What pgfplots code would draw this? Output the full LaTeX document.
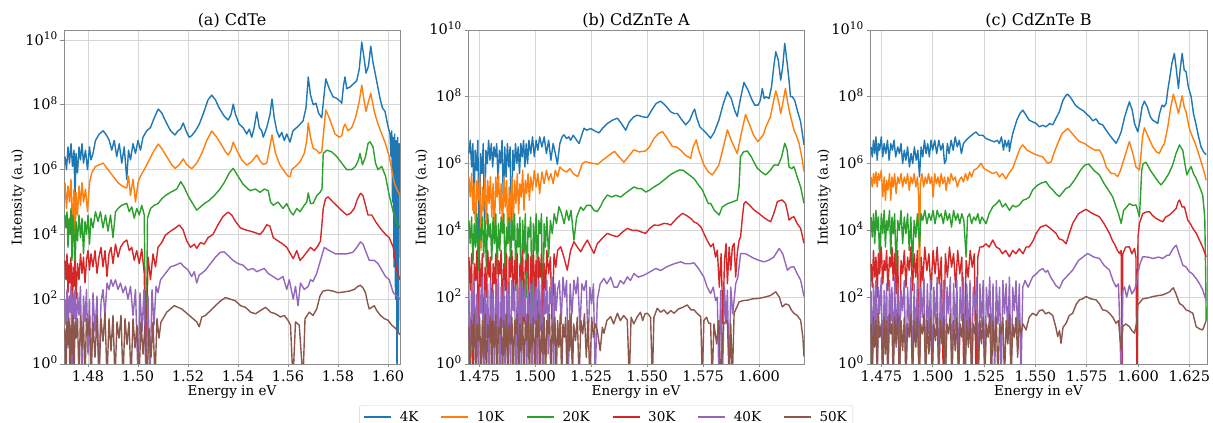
\documentclass[border=0pt]{standalone}
\usepackage{pgfplots}
\pgfplotsset{compat=1.18}
\usepackage{fontspec}
\setmainfont{DejaVu Serif}
\definecolor{c1}{HTML}{1F77B4}
\definecolor{c2}{HTML}{FF7F0E}
\definecolor{c3}{HTML}{2CA02C}
\definecolor{c4}{HTML}{D62728}
\definecolor{c5}{HTML}{9467BD}
\definecolor{c6}{HTML}{8C564B}
\newcommand\tickfont{\fontsize{14.5}{14.5}\selectfont}
\newcommand\labfont{\fontsize{13.5}{13.5}\selectfont}
\newcommand\titfont{\fontsize{16}{16}\selectfont}
\newcommand\tp[1]{10\raisebox{5.5pt}{\fontsize{10.5}{10.5}\selectfont #1}}
\pgfplotsset{
  panel/.style={
    scale only axis, height=334pt,
    ymin=0, ymax=10,
    axis line style={draw=black!45, line width=0.8pt},
    grid=major, grid style={draw=black!16, line width=0.8pt},
    major tick length=3.5pt, tick align=outside, tick pos=left,
    tick style={draw=black!45, line width=0.8pt},
    ytick={0,2,4,6,8,10},
    yticklabels={\tp{0},\tp{2},\tp{4},\tp{6},\tp{8},\tp{10}},
    yticklabel style={font=\tickfont, anchor=base east, inner sep=0pt, xshift=-3pt, yshift=-5pt},
    xticklabel style={font=\tickfont, anchor=north, inner sep=0pt, yshift=-3pt},
    ylabel={Intensity (a.u)}, xlabel={Energy in eV},
    every axis y label/.style={at={(rel axis cs:0,0.5)}, xshift=-46pt, rotate=90, anchor=center, font=\labfont},
    every axis x label/.style={at={(rel axis cs:0.5,0)}, yshift=-28pt, anchor=center, font=\labfont},
    every axis title/.style={at={(rel axis cs:0.5,1)}, anchor=base, yshift=4pt, font=\titfont},
  },
  s1/.style={color=c1, line width=1.4pt, line join=round},
  s2/.style={color=c2, line width=1.4pt, line join=round},
  s3/.style={color=c3, line width=1.4pt, line join=round},
  s4/.style={color=c4, line width=1.4pt, line join=round},
  s5/.style={color=c5, line width=1.4pt, line join=round},
  s6/.style={color=c6, line width=1.4pt, line join=round},
}
\begin{document}
\begin{tikzpicture}
% ---------------- (a) CdTe ----------------
\begin{axis}[panel, at={(64pt,59pt)}, anchor=south west, width=336pt,
  title={(a) CdTe}, xmin=1.4704, xmax=1.6048, ymax=10.31,
  xtick={1.48,1.50,1.52,1.54,1.56,1.58,1.60},
  xticklabels={1.48,1.50,1.52,1.54,1.56,1.58,1.60}]
\addplot[s1] coordinates {(1.4708,6.4)(1.4714,6.0)(1.4720,6.7)(1.4726,6.2)(1.4732,6.8)(1.4738,6.1)(1.4744,6.6)(1.4748,5.0)(1.4752,6.5)(1.4758,5.9)(1.4764,6.7)(1.4770,6.3)(1.4776,6.8)(1.4782,6.2)(1.4790,6.6)(1.4798,6.0)(1.4806,6.7)(1.4812,6.3)(1.4820,6.5)(1.4830,6.9)(1.4845,7.1)(1.4861,7.2)(1.4875,7.05)(1.4885,6.9)(1.4895,6.6)(1.4905,6.9)(1.4915,6.4)(1.4925,6.8)(1.4935,6.2)(1.4945,6.7)(1.4955,5.7)(1.4962,6.6)(1.4970,6.3)(1.4980,6.8)(1.4990,6.5)(1.5000,6.9)(1.5010,6.6)(1.5020,7.0)(1.5035,7.2)(1.5050,7.3)(1.5065,7.6)(1.5081,7.87)(1.5095,7.75)(1.5110,7.5)(1.5130,7.2)(1.5148,7.07)(1.5160,7.2)(1.5170,7.25)(1.5181,7.44)(1.5192,7.2)(1.5205,7.0)(1.5215,7.05)(1.5230,7.2)(1.5245,7.4)(1.5260,7.7)(1.5280,8.15)(1.5295,8.30)(1.5310,8.15)(1.5325,7.9)(1.5345,7.65)(1.5361,7.53)(1.5372,7.7)(1.5381,8.02)(1.5390,7.7)(1.5405,7.4)(1.5420,7.3)(1.5435,7.1)(1.5445,7.25)(1.5455,7.0)(1.5465,7.3)(1.5475,7.78)(1.5485,7.3)(1.5495,7.2)(1.5501,7.0)(1.5515,7.3)(1.5528,7.7)(1.5536,8.18)(1.5545,7.6)(1.5555,7.2)(1.5565,7.0)(1.5575,7.15)(1.5585,6.9)(1.5595,7.1)(1.5608,6.85)(1.5620,7.2)(1.5635,7.3)(1.5648,7.4)(1.5660,7.5)(1.5672,7.9)(1.5681,8.86)(1.5690,8.3)(1.5701,8.0)(1.5712,8.05)(1.5722,7.75)(1.5735,7.6)(1.5743,8.2)(1.5751,8.80)(1.5765,8.5)(1.5780,8.25)(1.5795,8.2)(1.5810,8.1)(1.5815,8.05)(1.5822,8.6)(1.5828,8.86)(1.5835,8.5)(1.5848,8.55)(1.5862,8.65)(1.5875,8.75)(1.5885,9.1)(1.5895,9.94)(1.5905,9.4)(1.5912,8.98)(1.5922,9.2)(1.5931,9.81)(1.5940,9.3)(1.5948,9.0)(1.5958,8.6)(1.5968,8.2)(1.5978,7.9)(1.5988,7.8)(1.5998,7.4)(1.6008,7.1)(1.6012,6.4)(1.6015,7.2)(1.6018,5.0)(1.6021,7.0)(1.6024,3.0)(1.6027,7.1)(1.6030,2.0)(1.6033,6.9)(1.6036,-0.5)(1.6039,7.0)(1.6042,1.0)(1.6045,6.8)(1.6048,6.5)};
\addplot[s2] coordinates {(1.4708,5.6)(1.4714,4.8)(1.4720,5.5)(1.4726,5.0)(1.4732,5.7)(1.4738,4.2)(1.4744,5.4)(1.4748,3.5)(1.4752,5.3)(1.4758,4.6)(1.4764,5.5)(1.4770,4.9)(1.4776,5.6)(1.4782,5.0)(1.4790,5.4)(1.4798,4.7)(1.4806,5.6)(1.4815,5.9)(1.4830,6.1)(1.4845,6.15)(1.4861,6.2)(1.4875,6.05)(1.4890,5.9)(1.4905,5.75)(1.4920,5.6)(1.4935,5.5)(1.4955,5.43)(1.4962,5.8)(1.4970,5.2)(1.4980,5.7)(1.4990,5.0)(1.5000,5.6)(1.5010,5.8)(1.5025,6.0)(1.5045,6.3)(1.5065,6.6)(1.5081,6.79)(1.5095,6.65)(1.5115,6.4)(1.5135,6.15)(1.5148,6.04)(1.5165,6.15)(1.5181,6.33)(1.5195,6.15)(1.5215,6.03)(1.5235,6.2)(1.5255,6.5)(1.5275,6.9)(1.5295,7.19)(1.5315,7.0)(1.5335,6.75)(1.5350,6.55)(1.5361,6.45)(1.5372,6.6)(1.5381,6.85)(1.5395,6.6)(1.5415,6.3)(1.5435,6.14)(1.5455,6.25)(1.5475,6.45)(1.5490,6.25)(1.5501,6.16)(1.5515,6.2)(1.5525,6.6)(1.5536,7.07)(1.5550,6.5)(1.5568,6.14)(1.5585,5.95)(1.5600,5.8)(1.5608,5.78)(1.5615,6.0)(1.5630,6.1)(1.5648,6.24)(1.5665,6.5)(1.5675,6.9)(1.5681,7.44)(1.5690,7.0)(1.5701,6.65)(1.5715,6.6)(1.5725,6.5)(1.5735,6.55)(1.5743,7.2)(1.5751,7.84)(1.5765,7.6)(1.5788,7.1)(1.5805,7.0)(1.5815,7.05)(1.5822,7.3)(1.5828,7.4)(1.5840,7.2)(1.5855,7.3)(1.5870,7.6)(1.5885,8.1)(1.5895,8.61)(1.5905,8.1)(1.5912,7.8)(1.5922,8.1)(1.5931,8.36)(1.5945,7.8)(1.5960,7.4)(1.5975,7.1)(1.5990,6.8)(1.6005,6.4)(1.6015,6.0)(1.6025,5.6)(1.6035,5.4)(1.6048,5.2)};
\addplot[s3] coordinates {(1.4708,4.6)(1.4712,4.2)(1.4716,4.7)(1.4720,3.6)(1.4724,4.5)(1.4728,4.0)(1.4732,4.8)(1.4736,3.2)(1.4740,4.6)(1.4744,4.1)(1.4748,2.5)(1.4752,4.4)(1.4758,3.8)(1.4764,4.6)(1.4770,3.9)(1.4776,4.5)(1.4782,3.4)(1.4788,4.4)(1.4794,4.0)(1.4800,4.6)(1.4806,3.7)(1.4812,4.5)(1.4820,4.2)(1.4830,4.7)(1.4840,4.4)(1.4850,4.7)(1.4860,4.2)(1.4870,4.6)(1.4880,4.1)(1.4890,4.6)(1.4900,3.9)(1.4910,4.7)(1.4920,4.8)(1.4935,4.9)(1.4955,4.96)(1.4965,4.7)(1.4975,4.85)(1.4985,4.5)(1.4995,4.8)(1.5005,4.6)(1.5015,4.9)(1.5025,4.6)(1.5032,-0.5)(1.5038,4.5)(1.5050,4.8)(1.5065,4.9)(1.5080,4.95)(1.5095,5.1)(1.5110,5.2)(1.5130,5.3)(1.5155,5.4)(1.5171,5.63)(1.5185,5.45)(1.5200,5.2)(1.5215,5.0)(1.5235,4.75)(1.5250,4.85)(1.5265,4.95)(1.5285,5.05)(1.5305,5.2)(1.5325,5.37)(1.5345,5.6)(1.5365,5.9)(1.5381,6.04)(1.5400,5.8)(1.5420,5.55)(1.5448,5.35)(1.5470,5.4)(1.5488,5.3)(1.5505,5.4)(1.5521,5.35)(1.5530,5.0)(1.5541,4.9)(1.5560,5.0)(1.5580,4.8)(1.5595,4.95)(1.5610,4.7)(1.5621,4.6)(1.5635,4.8)(1.5648,4.7)(1.5665,4.9)(1.5675,5.0)(1.5681,5.28)(1.5690,4.95)(1.5701,4.96)(1.5715,5.2)(1.5728,5.3)(1.5736,5.4)(1.5741,6.5)(1.5755,6.6)(1.5775,6.55)(1.5795,6.4)(1.5815,6.2)(1.5835,6.0)(1.5855,6.0)(1.5870,6.1)(1.5882,6.3)(1.5888,6.5)(1.5898,6.15)(1.5910,6.4)(1.5920,6.8)(1.5928,6.86)(1.5940,6.7)(1.5950,6.2)(1.5960,6.0)(1.5975,6.1)(1.5990,5.8)(1.6005,5.2)(1.6021,4.7)(1.6035,4.4)(1.6048,4.2)};
\addplot[s4] coordinates {(1.4708,3.2)(1.4712,2.6)(1.4716,3.4)(1.4720,2.2)(1.4724,3.1)(1.4728,2.5)(1.4732,3.3)(1.4736,-0.5)(1.4740,3.0)(1.4744,2.4)(1.4748,3.2)(1.4752,2.0)(1.4758,3.1)(1.4764,2.6)(1.4770,3.4)(1.4776,2.8)(1.4782,3.3)(1.4788,2.5)(1.4794,3.2)(1.4800,3.5)(1.4806,2.9)(1.4812,3.4)(1.4820,3.0)(1.4828,3.5)(1.4836,2.8)(1.4844,3.3)(1.4852,3.6)(1.4860,3.0)(1.4868,3.5)(1.4876,2.7)(1.4884,3.4)(1.4892,3.6)(1.4900,3.1)(1.4910,3.7)(1.4920,3.3)(1.4930,3.6)(1.4942,3.75)(1.4955,3.83)(1.4965,3.5)(1.4975,3.6)(1.4985,3.2)(1.4995,3.5)(1.5005,3.1)(1.5015,3.55)(1.5025,2.8)(1.5032,-0.5)(1.5040,3.3)(1.5050,2.6)(1.5060,3.4)(1.5070,3.0)(1.5080,3.6)(1.5095,3.75)(1.5110,3.98)(1.5130,4.1)(1.5150,4.2)(1.5165,4.29)(1.5180,4.15)(1.5195,3.8)(1.5210,3.6)(1.5225,3.7)(1.5235,3.57)(1.5250,3.75)(1.5265,3.7)(1.5280,3.9)(1.5300,4.0)(1.5320,4.3)(1.5340,4.55)(1.5360,4.69)(1.5375,4.6)(1.5390,4.4)(1.5410,4.2)(1.5430,4.14)(1.5450,4.1)(1.5470,4.05)(1.5488,4.0)(1.5500,4.1)(1.5515,4.3)(1.5528,4.25)(1.5541,3.9)(1.5560,3.8)(1.5580,3.7)(1.5595,3.6)(1.5610,3.4)(1.5621,3.25)(1.5635,3.5)(1.5648,3.2)(1.5660,3.3)(1.5675,3.45)(1.5690,3.6)(1.5705,3.5)(1.5720,3.65)(1.5730,3.8)(1.5741,4.8)(1.5750,5.1)(1.5760,5.16)(1.5780,5.0)(1.5800,4.85)(1.5820,4.7)(1.5835,4.6)(1.5850,4.65)(1.5865,4.8)(1.5878,5.1)(1.5890,5.27)(1.5900,5.2)(1.5910,4.9)(1.5920,4.6)(1.5935,4.6)(1.5950,4.4)(1.5968,4.2)(1.5990,4.0)(1.6005,3.9)(1.6021,3.6)(1.6035,2.9)(1.6048,2.6)};
\addplot[s5] coordinates {(1.4708,2.0)(1.4712,1.2)(1.4716,2.3)(1.4720,0.5)(1.4724,2.1)(1.4728,1.6)(1.4732,2.4)(1.4736,-0.5)(1.4740,2.2)(1.4744,1.4)(1.4748,2.3)(1.4752,0.8)(1.4758,2.2)(1.4764,1.5)(1.4770,2.4)(1.4776,-0.5)(1.4782,2.1)(1.4788,1.3)(1.4794,2.3)(1.4800,0.3)(1.4806,2.0)(1.4812,-0.5)(1.4820,2.2)(1.4828,1.0)(1.4836,2.1)(1.4844,-0.5)(1.4852,1.9)(1.4860,2.3)(1.4868,1.5)(1.4876,2.5)(1.4884,2.3)(1.4892,2.6)(1.4900,2.4)(1.4910,2.6)(1.4920,2.3)(1.4930,2.5)(1.4940,2.2)(1.4950,2.4)(1.4960,2.0)(1.4970,2.4)(1.4980,1.5)(1.4990,2.3)(1.5000,-0.5)(1.5008,2.2)(1.5016,1.0)(1.5024,2.3)(1.5032,-0.5)(1.5040,2.1)(1.5048,-0.5)(1.5056,2.3)(1.5064,1.2)(1.5072,2.4)(1.5080,2.2)(1.5090,2.6)(1.5110,2.8)(1.5130,3.0)(1.5150,3.05)(1.5170,3.12)(1.5185,3.0)(1.5200,2.9)(1.5215,2.7)(1.5225,2.85)(1.5235,2.5)(1.5245,2.75)(1.5255,2.8)(1.5270,2.9)(1.5290,3.1)(1.5310,3.3)(1.5330,3.45)(1.5345,3.46)(1.5360,3.35)(1.5380,3.2)(1.5400,3.1)(1.5420,3.05)(1.5440,2.9)(1.5460,2.95)(1.5475,2.85)(1.5490,2.9)(1.5505,2.95)(1.5520,2.8)(1.5540,2.7)(1.5560,2.6)(1.5580,2.7)(1.5595,2.3)(1.5605,2.6)(1.5621,2.0)(1.5630,2.4)(1.5640,1.8)(1.5650,2.5)(1.5665,2.3)(1.5681,2.4)(1.5690,2.6)(1.5700,2.55)(1.5715,2.8)(1.5730,3.2)(1.5745,3.6)(1.5765,3.5)(1.5790,3.4)(1.5810,3.4)(1.5835,3.4)(1.5860,3.45)(1.5875,3.6)(1.5890,3.77)(1.5900,3.7)(1.5910,3.5)(1.5925,3.2)(1.5945,3.2)(1.5960,3.1)(1.5975,2.9)(1.5990,2.7)(1.6005,2.6)(1.6021,2.2)(1.6035,2.1)(1.6048,2.0)};
\addplot[s6] coordinates {(1.4708,1.1)(1.4712,-0.5)(1.4716,1.3)(1.4720,0.6)(1.4724,1.4)(1.4728,-0.5)(1.4732,1.2)(1.4736,0.3)(1.4740,1.5)(1.4744,-0.5)(1.4748,1.3)(1.4752,0.8)(1.4758,1.4)(1.4764,-0.5)(1.4770,1.5)(1.4776,0.5)(1.4782,1.3)(1.4788,-0.5)(1.4794,1.4)(1.4800,0.9)(1.4806,1.5)(1.4812,-0.5)(1.4820,1.3)(1.4828,0.2)(1.4836,1.5)(1.4844,-0.5)(1.4852,1.4)(1.4860,0.7)(1.4868,1.6)(1.4876,-0.5)(1.4884,1.4)(1.4892,0.4)(1.4900,1.5)(1.4908,-0.5)(1.4916,1.3)(1.4924,0.8)(1.4932,1.5)(1.4940,-0.5)(1.4948,1.4)(1.4956,0.6)(1.4964,1.3)(1.4972,-0.5)(1.4980,1.4)(1.4988,0.5)(1.4996,1.2)(1.5004,-0.5)(1.5012,1.3)(1.5020,0.3)(1.5028,1.2)(1.5036,-0.5)(1.5044,1.1)(1.5052,0.2)(1.5060,1.3)(1.5068,-0.5)(1.5076,1.4)(1.5084,0.8)(1.5092,1.3)(1.5100,1.4)(1.5115,1.6)(1.5130,1.7)(1.5145,1.8)(1.5160,1.75)(1.5175,1.7)(1.5190,1.6)(1.5205,1.5)(1.5220,1.4)(1.5235,1.3)(1.5245,1.15)(1.5255,1.45)(1.5270,1.5)(1.5290,1.65)(1.5310,1.8)(1.5330,1.95)(1.5350,2.05)(1.5370,2.0)(1.5390,1.95)(1.5410,1.8)(1.5430,1.75)(1.5450,1.6)(1.5470,1.55)(1.5490,1.65)(1.5510,1.75)(1.5530,1.6)(1.5550,1.55)(1.5570,1.45)(1.5585,1.5)(1.5600,1.35)(1.5610,1.2)(1.5620,-0.5)(1.5630,1.3)(1.5645,1.2)(1.5660,-0.5)(1.5668,1.4)(1.5685,1.6)(1.5700,1.5)(1.5715,1.7)(1.5728,2.1)(1.5740,2.25)(1.5760,2.28)(1.5780,2.25)(1.5800,2.2)(1.5820,2.22)(1.5845,2.25)(1.5865,2.3)(1.5880,2.4)(1.5890,2.43)(1.5900,2.35)(1.5910,2.2)(1.5918,1.9)(1.5925,1.7)(1.5935,1.75)(1.5945,1.8)(1.5955,1.65)(1.5970,1.5)(1.5985,1.4)(1.6000,1.35)(1.6015,1.2)(1.6030,1.1)(1.6048,0.9)};
\end{axis}
% ---------------- (b) CdZnTe A ----------------
\begin{axis}[panel, at={(468pt,59pt)}, anchor=south west, width=336pt,
  title={(b) CdZnTe A}, xmin=1.4700, xmax=1.6200,
  xtick={1.475,1.500,1.525,1.550,1.575,1.600},
  xticklabels={1.475,1.500,1.525,1.550,1.575,1.600}]
\addplot[s1] coordinates {(1.4704,6.3)(1.4710,6.7)(1.4716,5.9)(1.4722,6.6)(1.4727,4.5)(1.4732,6.4)(1.4738,5.8)(1.4744,6.7)(1.4750,3.0)(1.4756,6.3)(1.4762,5.7)(1.4768,6.6)(1.4774,4.0)(1.4780,6.4)(1.4786,6.0)(1.4792,6.7)(1.4798,6.1)(1.4804,6.6)(1.4810,5.9)(1.4816,6.5)(1.4822,6.2)(1.4828,6.6)(1.4834,5.5)(1.4840,6.4)(1.4846,6.0)(1.4852,6.7)(1.4858,4.8)(1.4864,6.5)(1.4870,5.6)(1.4876,6.6)(1.4882,5.9)(1.4888,6.5)(1.4894,3.5)(1.4900,6.4)(1.4906,5.8)(1.4912,6.6)(1.4918,6.0)(1.4924,6.5)(1.4930,5.7)(1.4936,6.6)(1.4942,6.2)(1.4948,6.7)(1.4954,5.9)(1.4960,6.6)(1.4966,6.0)(1.4972,6.7)(1.4980,6.3)(1.4988,6.8)(1.4996,6.2)(1.5004,6.7)(1.5012,6.4)(1.5020,6.8)(1.5030,6.5)(1.5040,6.8)(1.5050,6.3)(1.5060,6.7)(1.5070,6.1)(1.5080,6.6)(1.5090,6.3)(1.5099,5.98)(1.5110,6.6)(1.5120,6.8)(1.5129,6.86)(1.5140,6.75)(1.5150,6.8)(1.5158,6.7)(1.5170,6.85)(1.5185,6.7)(1.5196,6.6)(1.5210,6.9)(1.5218,7.06)(1.5230,7.0)(1.5248,7.05)(1.5265,6.98)(1.5285,6.92)(1.5300,7.05)(1.5322,7.2)(1.5345,7.3)(1.5367,7.36)(1.5385,7.2)(1.5404,7.0)(1.5420,7.25)(1.5440,7.4)(1.5456,7.45)(1.5480,7.4)(1.5501,7.38)(1.5520,7.6)(1.5540,7.8)(1.5560,7.87)(1.5580,7.75)(1.5605,7.55)(1.5620,7.5)(1.5635,7.5)(1.5650,7.35)(1.5672,7.16)(1.5690,7.3)(1.5705,7.55)(1.5712,7.63)(1.5720,7.4)(1.5735,7.1)(1.5750,7.0)(1.5765,6.9)(1.5783,6.76)(1.5800,6.95)(1.5820,7.3)(1.5840,7.8)(1.5858,8.15)(1.5875,7.95)(1.5890,7.6)(1.5902,7.41)(1.5915,7.9)(1.5932,8.43)(1.5950,8.2)(1.5965,7.95)(1.5980,7.75)(1.5995,7.75)(1.6005,7.9)(1.6014,8.25)(1.6022,7.95)(1.6030,8.0)(1.6044,7.95)(1.6055,8.3)(1.6065,8.9)(1.6074,9.35)(1.6085,9.1)(1.6096,8.5)(1.6105,8.9)(1.6114,9.60)(1.6125,9.0)(1.6133,8.5)(1.6140,8.0)(1.6148,8.0)(1.6158,7.9)(1.6170,7.6)(1.6185,7.25)(1.6200,6.56)};
\addplot[s2] coordinates {(1.4704,5.6)(1.4710,5.0)(1.4716,5.7)(1.4722,4.6)(1.4728,5.4)(1.4734,3.8)(1.4740,5.5)(1.4746,4.9)(1.4752,5.7)(1.4758,3.4)(1.4764,5.3)(1.4770,4.6)(1.4776,5.6)(1.4782,4.2)(1.4788,5.5)(1.4794,4.8)(1.4800,5.6)(1.4806,4.4)(1.4812,5.4)(1.4818,3.9)(1.4824,5.6)(1.4830,5.0)(1.4836,5.7)(1.4842,4.5)(1.4848,5.4)(1.4854,4.0)(1.4860,5.6)(1.4866,4.7)(1.4872,5.5)(1.4878,3.6)(1.4884,5.3)(1.4890,4.3)(1.4896,5.6)(1.4902,4.1)(1.4908,5.5)(1.4914,4.8)(1.4920,5.7)(1.4926,4.5)(1.4932,5.4)(1.4938,5.0)(1.4944,5.8)(1.4950,4.6)(1.4956,5.5)(1.4962,5.1)(1.4968,5.7)(1.4974,4.9)(1.4980,5.6)(1.4988,5.2)(1.4996,5.8)(1.5004,5.3)(1.5012,5.7)(1.5020,5.1)(1.5030,5.75)(1.5040,5.4)(1.5050,5.8)(1.5060,5.5)(1.5070,5.7)(1.5080,5.4)(1.5090,5.8)(1.5100,5.6)(1.5110,5.9)(1.5125,5.8)(1.5140,5.75)(1.5155,5.85)(1.5170,5.7)(1.5190,5.61)(1.5200,5.8)(1.5210,6.0)(1.5225,6.06)(1.5245,6.02)(1.5265,6.0)(1.5280,5.98)(1.5300,6.1)(1.5320,6.2)(1.5345,6.33)(1.5355,6.36)(1.5375,6.2)(1.5396,6.04)(1.5415,6.2)(1.5440,6.41)(1.5465,6.35)(1.5493,6.38)(1.5510,6.5)(1.5530,6.75)(1.5550,6.9)(1.5568,6.96)(1.5585,6.8)(1.5612,6.51)(1.5630,6.5)(1.5650,6.4)(1.5670,6.25)(1.5694,6.16)(1.5705,6.5)(1.5719,6.71)(1.5730,6.4)(1.5753,5.96)(1.5773,5.75)(1.5791,5.66)(1.5805,5.8)(1.5820,5.96)(1.5840,6.5)(1.5858,7.01)(1.5875,6.7)(1.5902,6.30)(1.5920,6.9)(1.5939,7.47)(1.5955,7.2)(1.5975,6.85)(1.5994,6.66)(1.6018,6.86)(1.6030,7.1)(1.6050,7.4)(1.6065,7.9)(1.6074,8.18)(1.6087,7.85)(1.6096,7.50)(1.6105,7.8)(1.6117,8.25)(1.6128,7.8)(1.6137,7.5)(1.6155,7.01)(1.6168,6.8)(1.6178,6.6)(1.6190,6.2)(1.6200,5.76)};
\addplot[s3] coordinates {(1.4704,4.3)(1.4710,3.6)(1.4716,4.4)(1.4722,3.0)(1.4728,4.2)(1.4734,3.5)(1.4740,4.5)(1.4746,2.8)(1.4752,4.1)(1.4758,3.7)(1.4764,4.4)(1.4770,3.2)(1.4776,4.3)(1.4782,2.9)(1.4788,4.5)(1.4794,3.8)(1.4800,4.2)(1.4806,3.1)(1.4812,4.4)(1.4818,3.6)(1.4824,4.5)(1.4830,2.7)(1.4836,4.2)(1.4842,3.4)(1.4848,4.4)(1.4854,3.9)(1.4860,4.5)(1.4866,2.5)(1.4872,4.1)(1.4878,3.6)(1.4884,4.4)(1.4890,3.0)(1.4896,4.3)(1.4902,3.7)(1.4908,4.5)(1.4914,2.2)(1.4920,4.2)(1.4926,3.5)(1.4932,4.4)(1.4938,1.2)(1.4944,4.3)(1.4950,3.3)(1.4956,4.5)(1.4962,2.0)(1.4968,4.1)(1.4974,3.8)(1.4980,4.4)(1.4986,1.5)(1.4992,4.2)(1.4998,3.4)(1.5004,4.5)(1.5010,2.6)(1.5016,4.3)(1.5022,3.9)(1.5028,4.5)(1.5034,0.8)(1.5040,4.2)(1.5046,3.5)(1.5052,4.4)(1.5060,3.2)(1.5068,4.3)(1.5076,3.9)(1.5085,4.5)(1.5095,4.2)(1.5106,4.71)(1.5118,4.5)(1.5129,4.2)(1.5140,4.6)(1.5150,4.3)(1.5160,4.6)(1.5173,3.71)(1.5185,4.4)(1.5203,4.7)(1.5215,4.6)(1.5230,4.75)(1.5248,4.75)(1.5262,4.6)(1.5277,4.56)(1.5290,4.7)(1.5305,4.9)(1.5322,5.06)(1.5340,5.0)(1.5360,5.05)(1.5382,5.0)(1.5400,5.1)(1.5420,5.2)(1.5441,5.3)(1.5460,5.25)(1.5475,5.25)(1.5493,5.15)(1.5510,5.2)(1.5530,5.3)(1.5555,5.4)(1.5575,5.51)(1.5600,5.65)(1.5625,5.75)(1.5645,5.81)(1.5660,5.8)(1.5680,5.7)(1.5709,5.55)(1.5725,5.4)(1.5746,5.21)(1.5760,5.0)(1.5773,4.8)(1.5783,4.81)(1.5800,4.6)(1.5821,4.46)(1.5835,4.7)(1.5858,4.8)(1.5880,4.85)(1.5902,4.91)(1.5910,5.3)(1.5916,6.2)(1.5930,6.35)(1.5947,6.38)(1.5965,6.2)(1.5980,6.0)(1.5992,5.86)(1.6010,5.75)(1.6029,5.66)(1.6050,5.8)(1.6065,5.95)(1.6074,5.96)(1.6085,5.95)(1.6100,6.2)(1.6114,6.61)(1.6125,6.4)(1.6133,5.9)(1.6145,5.85)(1.6155,5.91)(1.6170,5.6)(1.6185,5.3)(1.6200,4.81)};
\addplot[s4] coordinates {(1.4704,3.2)(1.4710,2.2)(1.4716,3.3)(1.4722,-0.5)(1.4728,3.0)(1.4734,2.5)(1.4740,3.4)(1.4746,1.0)(1.4752,3.1)(1.4758,2.3)(1.4764,3.3)(1.4770,-0.5)(1.4776,2.9)(1.4782,2.0)(1.4788,3.4)(1.4794,2.6)(1.4800,3.2)(1.4806,0.5)(1.4812,3.0)(1.4818,2.4)(1.4824,3.3)(1.4830,-0.5)(1.4836,3.1)(1.4842,2.7)(1.4848,3.4)(1.4854,1.5)(1.4860,3.0)(1.4866,2.2)(1.4872,3.3)(1.4878,-0.5)(1.4884,3.2)(1.4890,2.6)(1.4896,3.4)(1.4902,1.8)(1.4908,3.1)(1.4914,2.4)(1.4920,3.3)(1.4926,-0.5)(1.4932,3.0)(1.4938,2.5)(1.4944,3.4)(1.4950,1.2)(1.4956,3.1)(1.4962,2.8)(1.4968,3.3)(1.4974,0.3)(1.4980,3.2)(1.4986,2.4)(1.4992,3.4)(1.4998,2.0)(1.5004,3.1)(1.5010,-0.5)(1.5016,3.2)(1.5022,2.6)(1.5028,3.3)(1.5034,1.4)(1.5040,3.0)(1.5046,2.2)(1.5052,3.4)(1.5060,2.7)(1.5068,3.2)(1.5076,1.0)(1.5084,3.3)(1.5092,2.9)(1.5100,3.4)(1.5114,3.51)(1.5128,3.2)(1.5143,2.81)(1.5158,3.4)(1.5173,3.66)(1.5188,3.5)(1.5203,3.36)(1.5218,3.55)(1.5233,3.71)(1.5248,3.5)(1.5262,3.31)(1.5277,3.6)(1.5292,3.71)(1.5305,3.8)(1.5322,3.91)(1.5345,3.85)(1.5367,3.81)(1.5390,3.95)(1.5411,4.06)(1.5435,4.0)(1.5456,4.0)(1.5475,3.95)(1.5493,3.91)(1.5510,4.05)(1.5530,4.16)(1.5550,4.15)(1.5575,4.21)(1.5590,4.2)(1.5605,4.16)(1.5630,4.35)(1.5657,4.51)(1.5675,4.45)(1.5694,4.36)(1.5710,4.25)(1.5724,4.21)(1.5740,4.1)(1.5753,3.91)(1.5768,3.7)(1.5783,3.51)(1.5795,3.6)(1.5805,3.2)(1.5813,3.41)(1.5822,2.3)(1.5830,3.3)(1.5838,1.2)(1.5845,3.1)(1.5852,3.6)(1.5858,2.4)(1.5866,3.5)(1.5873,2.81)(1.5880,3.5)(1.5888,3.61)(1.5895,2.6)(1.5902,3.31)(1.5910,3.7)(1.5917,3.81)(1.5925,4.4)(1.5932,4.8)(1.5940,4.86)(1.5958,4.75)(1.5977,4.61)(1.6000,4.5)(1.6022,4.38)(1.6040,4.3)(1.6051,4.26)(1.6065,4.5)(1.6081,4.86)(1.6095,4.9)(1.6103,4.91)(1.6118,4.8)(1.6128,4.5)(1.6133,4.31)(1.6145,4.38)(1.6155,4.41)(1.6170,4.2)(1.6185,4.06)(1.6200,3.61)};
\addplot[s5] coordinates {(1.4704,2.2)(1.4710,-0.5)(1.4716,2.4)(1.4722,1.2)(1.4728,2.5)(1.4734,0.4)(1.4740,2.1)(1.4746,-0.5)(1.4752,2.3)(1.4758,1.5)(1.4764,2.6)(1.4770,-0.5)(1.4776,2.2)(1.4782,0.8)(1.4788,2.4)(1.4794,-0.5)(1.4800,2.5)(1.4806,1.3)(1.4812,2.2)(1.4818,-0.5)(1.4824,2.4)(1.4830,0.6)(1.4836,2.6)(1.4842,-0.5)(1.4848,2.3)(1.4854,1.1)(1.4860,2.5)(1.4866,-0.5)(1.4872,2.2)(1.4878,0.9)(1.4884,2.4)(1.4890,-0.5)(1.4896,2.5)(1.4902,1.6)(1.4908,2.3)(1.4914,-0.5)(1.4920,2.4)(1.4926,0.5)(1.4932,2.6)(1.4938,-0.5)(1.4944,2.3)(1.4950,1.4)(1.4956,2.5)(1.4962,-0.5)(1.4968,2.2)(1.4974,0.7)(1.4980,2.4)(1.4986,-0.5)(1.4992,2.6)(1.4998,1.2)(1.5004,2.3)(1.5010,-0.5)(1.5016,2.5)(1.5022,1.0)(1.5028,2.4)(1.5034,-0.5)(1.5040,2.2)(1.5046,1.5)(1.5052,2.5)(1.5058,0.3)(1.5064,2.3)(1.5070,1.8)(1.5076,2.6)(1.5082,-0.5)(1.5088,2.4)(1.5094,1.6)(1.5100,2.22)(1.5108,2.5)(1.5116,1.2)(1.5124,2.6)(1.5132,2.0)(1.5140,2.5)(1.5148,-0.5)(1.5156,2.4)(1.5164,1.5)(1.5173,2.51)(1.5182,2.1)(1.5190,2.6)(1.5200,1.0)(1.5208,2.4)(1.5218,2.2)(1.5228,2.5)(1.5236,0.5)(1.5244,2.3)(1.5252,1.8)(1.5260,2.4)(1.5268,-0.5)(1.5277,1.91)(1.5290,2.4)(1.5307,2.56)(1.5320,2.4)(1.5337,2.6)(1.5352,2.3)(1.5367,2.3)(1.5380,2.5)(1.5395,2.4)(1.5411,2.61)(1.5425,2.5)(1.5441,2.71)(1.5460,2.6)(1.5486,2.66)(1.5510,2.75)(1.5538,2.86)(1.5560,2.8)(1.5590,2.92)(1.5620,3.0)(1.5650,3.06)(1.5670,3.0)(1.5690,3.0)(1.5709,3.03)(1.5730,2.85)(1.5753,2.6)(1.5768,2.3)(1.5783,2.11)(1.5795,2.3)(1.5805,1.9)(1.5813,2.0)(1.5820,-0.5)(1.5828,2.2)(1.5836,-0.5)(1.5845,2.3)(1.5852,1.2)(1.5858,2.21)(1.5866,-0.5)(1.5873,2.3)(1.5882,1.5)(1.5895,2.4)(1.5905,2.6)(1.5917,3.31)(1.5940,3.3)(1.5977,3.16)(1.6000,3.1)(1.6022,3.06)(1.6044,3.11)(1.6065,3.2)(1.6089,3.46)(1.6105,3.3)(1.6126,2.81)(1.6140,2.9)(1.6155,2.91)(1.6170,2.7)(1.6185,2.51)(1.6200,2.02)};
\addplot[s6] coordinates {(1.4704,1.1)(1.4710,-0.5)(1.4716,1.3)(1.4722,0.4)(1.4728,1.5)(1.4734,-0.5)(1.4740,1.2)(1.4746,0.7)(1.4752,1.4)(1.4758,-0.5)(1.4764,1.3)(1.4770,0.2)(1.4776,1.5)(1.4782,-0.5)(1.4788,1.2)(1.4794,0.8)(1.4800,1.4)(1.4806,-0.5)(1.4812,1.3)(1.4818,0.5)(1.4824,1.5)(1.4830,-0.5)(1.4836,1.1)(1.4842,0.9)(1.4848,1.4)(1.4854,-0.5)(1.4860,1.3)(1.4866,0.3)(1.4872,1.5)(1.4878,-0.5)(1.4884,1.2)(1.4890,0.6)(1.4896,1.4)(1.4902,-0.5)(1.4908,1.3)(1.4914,0.9)(1.4920,1.5)(1.4926,-0.5)(1.4932,1.2)(1.4938,0.4)(1.4944,1.4)(1.4950,-0.5)(1.4956,1.3)(1.4962,0.7)(1.4968,1.5)(1.4974,-0.5)(1.4980,1.2)(1.4986,0.5)(1.4992,1.4)(1.4998,-0.5)(1.5004,1.3)(1.5010,0.8)(1.5016,1.5)(1.5022,-0.5)(1.5028,1.2)(1.5034,0.3)(1.5040,1.4)(1.5046,-0.5)(1.5052,1.3)(1.5058,0.9)(1.5064,1.5)(1.5070,-0.5)(1.5076,1.2)(1.5082,0.6)(1.5088,1.4)(1.5094,-0.5)(1.5100,1.3)(1.5106,0.5)(1.5112,1.5)(1.5118,-0.5)(1.5124,1.2)(1.5130,0.8)(1.5136,1.4)(1.5142,-0.5)(1.5148,1.3)(1.5154,0.4)(1.5160,1.5)(1.5166,-0.5)(1.5172,1.2)(1.5180,0.7)(1.5188,1.4)(1.5196,-0.5)(1.5204,1.3)(1.5212,0.9)(1.5220,1.5)(1.5228,0.2)(1.5236,1.3)(1.5244,-0.5)(1.5252,1.4)(1.5260,0.8)(1.5268,1.2)(1.5277,1.02)(1.5290,0.4)(1.5300,1.1)(1.5307,0.92)(1.5320,1.3)(1.5337,1.42)(1.5350,1.2)(1.5367,1.52)(1.5380,1.3)(1.5395,1.45)(1.5411,1.32)(1.5420,-0.5)(1.5428,1.4)(1.5440,1.2)(1.5456,1.42)(1.5470,1.55)(1.5480,1.3)(1.5490,1.5)(1.5501,1.52)(1.5515,1.4)(1.5523,-0.5)(1.5530,1.4)(1.5545,1.67)(1.5560,1.55)(1.5575,1.62)(1.5590,1.5)(1.5605,1.6)(1.5620,1.52)(1.5640,1.65)(1.5660,1.7)(1.5679,1.77)(1.5695,1.62)(1.5709,1.62)(1.5725,1.5)(1.5739,1.42)(1.5746,-0.5)(1.5753,1.3)(1.5765,1.4)(1.5775,1.22)(1.5783,1.22)(1.5790,-0.5)(1.5798,1.2)(1.5810,0.6)(1.5820,1.3)(1.5828,-0.5)(1.5840,1.2)(1.5858,1.32)(1.5866,-0.5)(1.5873,1.2)(1.5880,-0.5)(1.5888,1.52)(1.5900,1.7)(1.5910,1.86)(1.5930,1.9)(1.5947,1.91)(1.5970,1.95)(1.5992,1.96)(1.6010,1.98)(1.6029,2.01)(1.6050,2.05)(1.6074,2.16)(1.6090,2.0)(1.6103,1.71)(1.6118,1.8)(1.6133,1.76)(1.6145,1.6)(1.6155,1.52)(1.6170,1.45)(1.6185,1.31)(1.6195,0.8)(1.6200,0.22)};
\end{axis}
% ---------------- (c) CdZnTe B ----------------
\begin{axis}[panel, at={(870pt,59pt)}, anchor=south west, width=337pt,
  title={(c) CdZnTe B}, xmin=1.4695, xmax=1.6336,
  xtick={1.475,1.500,1.525,1.550,1.575,1.600,1.625},
  xticklabels={1.475,1.500,1.525,1.550,1.575,1.600,1.625},
  legend columns=6,
  legend image code/.code={\draw[#1] (0pt,0pt) -- (27pt,0pt);},
  legend style={at={(-0.783,-0.1228)}, anchor=north, draw=black!18, rounded corners=2pt,
    inner xsep=4pt, inner ysep=4pt, font=\labfont,
    /tikz/every odd column/.append style={column sep=6pt},
    /tikz/every even column/.append style={column sep=20pt}}]
\addplot[s1] coordinates {(1.4700,6.5)(1.4706,6.2)(1.4712,6.7)(1.4718,6.3)(1.4724,6.8)(1.4730,6.1)(1.4736,6.6)(1.4742,6.4)(1.4750,6.8)(1.4757,6.2)(1.4764,6.6)(1.4772,6.3)(1.4780,6.7)(1.4788,6.1)(1.4796,6.6)(1.4804,6.4)(1.4812,6.7)(1.4820,6.2)(1.4830,6.5)(1.4838,6.3)(1.4846,6.6)(1.4854,6.0)(1.4862,6.4)(1.4870,6.1)(1.4878,6.5)(1.4887,5.9)(1.4895,6.3)(1.4903,6.0)(1.4911,6.5)(1.4920,6.1)(1.4928,6.4)(1.4936,5.6)(1.4944,6.5)(1.4952,6.2)(1.4960,6.7)(1.4968,6.3)(1.4976,6.6)(1.4984,6.2)(1.4992,6.7)(1.5000,6.4)(1.5010,6.7)(1.5020,6.3)(1.5030,6.7)(1.5040,6.4)(1.5050,6.6)(1.5058,6.0)(1.5065,6.1)(1.5072,6.6)(1.5080,6.3)(1.5090,6.7)(1.5100,6.4)(1.5110,6.8)(1.5120,6.5)(1.5130,6.7)(1.5140,6.3)(1.5150,6.6)(1.5163,6.7)(1.5180,6.8)(1.5200,6.9)(1.5211,6.95)(1.5225,6.85)(1.5244,6.85)(1.5260,6.75)(1.5280,6.7)(1.5300,6.65)(1.5315,6.7)(1.5325,6.6)(1.5335,6.8)(1.5345,6.4)(1.5352,6.7)(1.5360,6.5)(1.5370,6.7)(1.5374,6.36)(1.5380,6.6)(1.5390,6.9)(1.5410,7.3)(1.5425,7.5)(1.5439,7.6)(1.5455,7.45)(1.5470,7.3)(1.5487,7.25)(1.5505,7.2)(1.5520,7.1)(1.5535,7.15)(1.5552,7.1)(1.5570,7.2)(1.5585,7.16)(1.5600,7.35)(1.5617,7.55)(1.5635,7.9)(1.5650,8.05)(1.5658,8.08)(1.5675,7.95)(1.5695,7.75)(1.5715,7.65)(1.5735,7.58)(1.5747,7.5)(1.5765,7.4)(1.5780,7.28)(1.5796,7.34)(1.5810,7.2)(1.5828,7.16)(1.5845,7.0)(1.5861,6.86)(1.5875,6.75)(1.5893,6.61)(1.5905,6.75)(1.5918,6.95)(1.5935,7.4)(1.5958,7.85)(1.5972,7.6)(1.5983,7.2)(1.5999,6.95)(1.6010,7.3)(1.6020,7.7)(1.6031,7.87)(1.6045,7.7)(1.6060,7.4)(1.6072,7.30)(1.6085,7.25)(1.6096,7.2)(1.6105,7.5)(1.6117,7.75)(1.6127,7.7)(1.6137,7.8)(1.6145,8.2)(1.6153,8.5)(1.6165,9.0)(1.6177,9.30)(1.6187,8.8)(1.6197,8.25)(1.6205,8.8)(1.6215,9.30)(1.6225,8.8)(1.6234,8.75)(1.6245,8.3)(1.6259,8.0)(1.6270,7.5)(1.6283,7.16)(1.6295,6.8)(1.6307,6.5)(1.6320,6.35)(1.6332,6.26)};
\addlegendentry{4K}
\addplot[s2] coordinates {(1.4700,5.6)(1.4706,5.3)(1.4712,5.7)(1.4718,5.4)(1.4724,5.75)(1.4730,5.3)(1.4736,5.7)(1.4742,5.5)(1.4750,5.8)(1.4757,5.0)(1.4764,5.6)(1.4770,4.9)(1.4776,5.5)(1.4782,5.2)(1.4790,5.7)(1.4796,4.9)(1.4802,5.6)(1.4808,5.3)(1.4815,5.7)(1.4822,5.1)(1.4830,5.6)(1.4838,5.4)(1.4846,5.7)(1.4854,5.3)(1.4862,5.6)(1.4870,5.4)(1.4878,5.7)(1.4886,5.2)(1.4894,5.6)(1.4902,5.4)(1.4910,5.7)(1.4918,5.3)(1.4926,5.6)(1.4932,5.0)(1.4936,1.7)(1.4940,5.4)(1.4948,5.7)(1.4956,5.3)(1.4964,5.6)(1.4972,5.4)(1.4980,5.7)(1.4988,5.4)(1.4996,5.6)(1.5002,5.0)(1.5010,5.7)(1.5018,5.4)(1.5026,5.6)(1.5034,5.3)(1.5042,5.7)(1.5050,5.4)(1.5058,5.6)(1.5066,5.2)(1.5074,5.6)(1.5082,5.4)(1.5090,5.7)(1.5100,5.5)(1.5110,5.6)(1.5120,5.3)(1.5130,5.5)(1.5140,5.6)(1.5150,5.45)(1.5160,5.7)(1.5170,5.5)(1.5180,5.75)(1.5190,5.6)(1.5200,5.8)(1.5215,5.85)(1.5236,6.01)(1.5250,5.85)(1.5265,5.8)(1.5280,5.75)(1.5293,5.7)(1.5310,5.75)(1.5325,5.6)(1.5340,5.7)(1.5357,5.54)(1.5370,5.7)(1.5390,5.86)(1.5410,6.2)(1.5425,6.45)(1.5439,6.56)(1.5460,6.4)(1.5487,6.31)(1.5510,6.25)(1.5536,6.2)(1.5560,6.01)(1.5577,6.05)(1.5590,6.3)(1.5609,6.6)(1.5630,6.9)(1.5658,7.05)(1.5680,6.9)(1.5700,6.75)(1.5715,6.66)(1.5740,6.6)(1.5763,6.5)(1.5790,6.4)(1.5812,6.41)(1.5830,6.2)(1.5845,5.9)(1.5869,5.71)(1.5885,5.7)(1.5901,5.61)(1.5915,5.8)(1.5935,6.2)(1.5958,6.66)(1.5975,6.3)(1.5990,5.9)(1.6007,5.81)(1.6015,6.3)(1.6022,6.8)(1.6031,7.07)(1.6050,6.8)(1.6072,6.5)(1.6090,6.35)(1.6104,6.31)(1.6118,6.5)(1.6129,6.6)(1.6145,7.1)(1.6160,7.7)(1.6172,8.08)(1.6185,7.8)(1.6197,7.5)(1.6207,7.8)(1.6215,8.03)(1.6225,7.7)(1.6234,7.55)(1.6250,7.05)(1.6265,6.8)(1.6275,6.66)(1.6290,6.4)(1.6307,6.06)(1.6320,5.8)(1.6332,5.5)};
\addlegendentry{10K}
\addplot[s3] coordinates {(1.4700,4.4)(1.4706,3.8)(1.4712,4.5)(1.4718,3.6)(1.4724,4.6)(1.4730,4.0)(1.4736,4.4)(1.4742,2.9)(1.4750,4.5)(1.4757,3.9)(1.4764,4.6)(1.4770,3.5)(1.4776,4.3)(1.4782,4.0)(1.4790,4.6)(1.4796,3.3)(1.4802,4.4)(1.4808,3.9)(1.4815,4.5)(1.4822,2.8)(1.4830,4.3)(1.4838,4.0)(1.4846,4.6)(1.4854,3.6)(1.4862,4.4)(1.4870,3.9)(1.4878,4.5)(1.4886,3.4)(1.4894,4.4)(1.4902,2.9)(1.4910,4.3)(1.4918,3.8)(1.4926,4.5)(1.4936,3.5)(1.4944,4.5)(1.4952,4.3)(1.4962,4.6)(1.4972,4.2)(1.4982,4.5)(1.4992,4.3)(1.5002,4.6)(1.5012,4.2)(1.5022,4.6)(1.5032,4.4)(1.5042,4.5)(1.5052,4.2)(1.5062,4.6)(1.5072,4.3)(1.5082,4.5)(1.5092,4.1)(1.5102,4.6)(1.5112,4.3)(1.5122,4.5)(1.5132,4.2)(1.5142,4.5)(1.5152,4.3)(1.5163,3.2)(1.5170,4.4)(1.5180,4.5)(1.5190,4.2)(1.5200,4.4)(1.5210,4.3)(1.5220,4.5)(1.5230,4.2)(1.5240,4.4)(1.5250,4.3)(1.5260,4.2)(1.5275,4.5)(1.5293,4.71)(1.5310,4.8)(1.5325,4.91)(1.5340,4.7)(1.5355,4.8)(1.5374,4.6)(1.5390,4.75)(1.5405,4.7)(1.5422,4.76)(1.5440,4.9)(1.5460,4.95)(1.5471,5.0)(1.5487,5.21)(1.5510,5.35)(1.5530,5.42)(1.5552,5.46)(1.5570,5.3)(1.5585,5.21)(1.5600,5.1)(1.5617,5.01)(1.5635,5.15)(1.5650,5.26)(1.5666,5.3)(1.5690,5.5)(1.5720,5.8)(1.5740,5.95)(1.5760,5.99)(1.5785,5.8)(1.5812,5.66)(1.5835,5.4)(1.5861,5.16)(1.5877,5.0)(1.5893,4.71)(1.5905,4.5)(1.5918,4.21)(1.5930,4.6)(1.5945,4.7)(1.5958,4.8)(1.5975,4.75)(1.5991,4.76)(1.6007,4.41)(1.6012,5.0)(1.6018,5.8)(1.6025,6.0)(1.6039,6.04)(1.6060,5.8)(1.6088,5.55)(1.6100,5.45)(1.6112,5.36)(1.6130,5.5)(1.6150,5.7)(1.6169,5.96)(1.6185,6.3)(1.6202,6.56)(1.6212,6.45)(1.6218,6.4)(1.6228,6.0)(1.6238,5.66)(1.6248,5.8)(1.6259,5.91)(1.6270,5.7)(1.6283,5.56)(1.6300,5.3)(1.6315,5.06)(1.6325,4.4)(1.6330,2.5)(1.6332,1.3)};
\addlegendentry{20K}
\addplot[s4] coordinates {(1.4700,3.0)(1.4706,2.3)(1.4712,3.4)(1.4718,2.6)(1.4724,3.2)(1.4730,2.0)(1.4736,3.3)(1.4742,2.7)(1.4750,3.5)(1.4757,2.4)(1.4764,3.1)(1.4770,2.8)(1.4776,3.4)(1.4782,2.2)(1.4790,3.2)(1.4796,2.9)(1.4802,3.5)(1.4808,2.5)(1.4815,3.3)(1.4822,2.1)(1.4830,3.4)(1.4838,-0.5)(1.4846,3.1)(1.4854,2.7)(1.4862,3.4)(1.4870,2.3)(1.4878,3.2)(1.4886,2.8)(1.4894,3.5)(1.4902,2.2)(1.4910,3.3)(1.4918,2.6)(1.4926,3.4)(1.4936,-0.5)(1.4944,3.2)(1.4952,2.5)(1.4962,3.5)(1.4972,2.8)(1.4982,3.3)(1.4992,2.2)(1.5002,3.4)(1.5012,2.7)(1.5022,3.5)(1.5032,2.4)(1.5042,3.2)(1.5052,-0.5)(1.5062,3.3)(1.5072,2.6)(1.5082,3.5)(1.5092,2.9)(1.5102,3.3)(1.5112,2.3)(1.5122,3.4)(1.5132,2.7)(1.5142,3.2)(1.5152,-0.5)(1.5163,3.1)(1.5173,2.6)(1.5183,3.4)(1.5193,2.9)(1.5203,3.3)(1.5211,-0.5)(1.5220,3.2)(1.5230,3.5)(1.5244,3.51)(1.5260,3.6)(1.5275,3.5)(1.5293,3.71)(1.5310,3.5)(1.5325,3.45)(1.5340,3.3)(1.5355,3.4)(1.5374,3.21)(1.5390,3.4)(1.5405,3.3)(1.5422,3.45)(1.5440,3.3)(1.5455,3.5)(1.5471,3.51)(1.5490,3.7)(1.5504,3.91)(1.5525,4.1)(1.5552,4.16)(1.5575,4.05)(1.5601,3.91)(1.5615,3.75)(1.5633,3.71)(1.5650,3.6)(1.5665,3.9)(1.5682,4.21)(1.5710,4.5)(1.5747,4.63)(1.5780,4.5)(1.5812,4.41)(1.5835,4.2)(1.5861,3.91)(1.5875,3.7)(1.5885,3.6)(1.5900,3.4)(1.5910,3.31)(1.5918,3.4)(1.5922,-0.5)(1.5926,3.3)(1.5940,3.5)(1.5958,3.51)(1.5970,3.3)(1.5983,3.46)(1.5990,3.2)(1.5995,-0.5)(1.6000,3.8)(1.6007,4.21)(1.6023,4.5)(1.6040,4.55)(1.6056,4.56)(1.6070,4.45)(1.6088,4.36)(1.6105,4.3)(1.6121,4.26)(1.6135,4.4)(1.6153,4.46)(1.6170,4.56)(1.6186,4.66)(1.6195,4.85)(1.6202,4.91)(1.6215,4.7)(1.6226,4.71)(1.6242,4.31)(1.6255,4.2)(1.6267,4.06)(1.6285,3.9)(1.6299,3.71)(1.6315,3.5)(1.6332,3.21)};
\addlegendentry{30K}
\addplot[s5] coordinates {(1.4700,2.2)(1.4706,-0.5)(1.4712,2.4)(1.4718,1.0)(1.4724,2.5)(1.4730,-0.5)(1.4736,2.3)(1.4742,1.5)(1.4750,2.6)(1.4757,-0.5)(1.4764,2.2)(1.4770,0.8)(1.4776,2.4)(1.4782,-0.5)(1.4790,2.5)(1.4796,1.3)(1.4802,2.3)(1.4808,-0.5)(1.4815,2.6)(1.4822,0.5)(1.4830,2.4)(1.4838,-0.5)(1.4846,2.2)(1.4854,1.6)(1.4862,2.5)(1.4870,-0.5)(1.4878,2.3)(1.4886,1.1)(1.4894,2.6)(1.4902,-0.5)(1.4910,2.4)(1.4918,0.7)(1.4926,2.5)(1.4934,-0.5)(1.4942,2.3)(1.4950,1.4)(1.4958,2.6)(1.4966,-0.5)(1.4974,2.4)(1.4982,0.9)(1.4990,2.5)(1.4998,-0.5)(1.5006,2.3)(1.5014,1.2)(1.5022,2.6)(1.5030,-0.5)(1.5038,2.4)(1.5046,0.6)(1.5054,2.5)(1.5062,-0.5)(1.5070,2.3)(1.5078,1.5)(1.5086,2.6)(1.5094,-0.5)(1.5102,2.4)(1.5110,1.0)(1.5118,2.5)(1.5126,-0.5)(1.5134,2.3)(1.5142,1.3)(1.5150,2.6)(1.5158,-0.5)(1.5166,2.4)(1.5174,0.8)(1.5182,2.5)(1.5190,-0.5)(1.5198,2.3)(1.5206,1.6)(1.5214,2.6)(1.5222,-0.5)(1.5230,2.4)(1.5238,1.1)(1.5246,2.5)(1.5254,-0.5)(1.5262,2.3)(1.5270,1.4)(1.5278,2.6)(1.5286,0.4)(1.5294,2.4)(1.5302,-0.5)(1.5310,2.5)(1.5318,1.2)(1.5326,2.3)(1.5334,-0.5)(1.5342,2.5)(1.5350,1.5)(1.5358,2.4)(1.5366,0.7)(1.5374,2.6)(1.5382,-0.5)(1.5390,2.3)(1.5398,1.6)(1.5406,2.5)(1.5414,0.9)(1.5422,2.4)(1.5430,-0.5)(1.5439,2.3)(1.5450,2.5)(1.5465,2.3)(1.5487,2.61)(1.5505,2.7)(1.5520,2.8)(1.5536,2.86)(1.5550,2.75)(1.5560,2.8)(1.5575,2.6)(1.5585,2.5)(1.5600,2.35)(1.5617,2.26)(1.5635,2.5)(1.5650,2.6)(1.5682,2.81)(1.5710,3.1)(1.5755,3.31)(1.5785,3.2)(1.5812,3.16)(1.5835,2.95)(1.5861,2.81)(1.5878,2.5)(1.5893,2.31)(1.5905,2.4)(1.5912,1.0)(1.5918,-0.5)(1.5926,2.2)(1.5934,2.31)(1.5945,2.0)(1.5958,2.36)(1.5970,2.1)(1.5983,2.22)(1.5992,2.4)(1.5999,2.71)(1.6010,3.0)(1.6023,3.21)(1.6050,3.2)(1.6072,3.16)(1.6100,3.2)(1.6121,3.16)(1.6140,3.25)(1.6153,3.26)(1.6170,3.45)(1.6186,3.56)(1.6200,3.3)(1.6218,2.96)(1.6235,2.9)(1.6250,2.76)(1.6265,2.7)(1.6283,2.56)(1.6300,2.4)(1.6315,2.22)(1.6332,1.9)};
\addlegendentry{40K}
\addplot[s6] coordinates {(1.4700,1.2)(1.4706,-0.5)(1.4712,1.4)(1.4718,0.5)(1.4724,1.3)(1.4730,-0.5)(1.4736,1.5)(1.4742,0.8)(1.4750,1.2)(1.4757,-0.5)(1.4764,1.4)(1.4770,0.3)(1.4776,1.3)(1.4782,-0.5)(1.4790,1.5)(1.4796,0.9)(1.4802,1.2)(1.4808,-0.5)(1.4815,1.4)(1.4822,0.6)(1.4830,1.5)(1.4838,-0.5)(1.4846,1.3)(1.4854,0.4)(1.4862,1.4)(1.4870,-0.5)(1.4878,1.2)(1.4886,0.8)(1.4894,1.5)(1.4902,-0.5)(1.4910,1.3)(1.4918,0.5)(1.4926,1.4)(1.4934,-0.5)(1.4942,1.2)(1.4950,0.9)(1.4958,1.5)(1.4966,-0.5)(1.4974,1.3)(1.4982,0.3)(1.4990,1.4)(1.4998,-0.5)(1.5006,1.2)(1.5014,0.7)(1.5022,1.5)(1.5030,-0.5)(1.5038,1.3)(1.5046,0.6)(1.5054,1.4)(1.5062,-0.5)(1.5070,1.2)(1.5078,0.9)(1.5086,1.5)(1.5094,-0.5)(1.5102,1.3)(1.5110,0.4)(1.5118,1.4)(1.5126,-0.5)(1.5134,1.2)(1.5142,0.8)(1.5150,1.5)(1.5158,-0.5)(1.5166,1.3)(1.5174,0.5)(1.5182,1.4)(1.5190,-0.5)(1.5198,1.2)(1.5206,0.9)(1.5214,1.5)(1.5222,-0.5)(1.5230,1.3)(1.5238,0.6)(1.5246,1.4)(1.5254,-0.5)(1.5262,1.2)(1.5270,0.8)(1.5278,1.5)(1.5286,-0.5)(1.5294,1.3)(1.5302,0.4)(1.5310,1.4)(1.5318,-0.5)(1.5326,1.2)(1.5334,0.9)(1.5342,1.4)(1.5350,-0.5)(1.5358,1.3)(1.5366,0.6)(1.5374,1.5)(1.5382,-0.5)(1.5390,1.2)(1.5398,0.8)(1.5406,1.4)(1.5414,0.2)(1.5422,1.3)(1.5430,0.9)(1.5440,1.2)(1.5455,1.02)(1.5470,1.4)(1.5487,1.52)(1.5505,1.45)(1.5520,1.6)(1.5536,1.62)(1.5550,1.5)(1.5565,1.55)(1.5585,1.45)(1.5600,1.1)(1.5609,0.82)(1.5618,1.0)(1.5625,0.62)(1.5635,1.1)(1.5650,1.22)(1.5665,1.45)(1.5682,1.52)(1.5700,1.8)(1.5715,1.92)(1.5730,1.95)(1.5747,2.02)(1.5770,1.95)(1.5796,1.92)(1.5812,1.8)(1.5828,1.62)(1.5845,1.6)(1.5861,1.52)(1.5877,1.4)(1.5893,1.22)(1.5905,1.3)(1.5912,0.8)(1.5918,0.42)(1.5926,1.12)(1.5940,1.2)(1.5958,1.12)(1.5970,1.0)(1.5983,0.92)(1.5992,1.2)(1.5999,1.77)(1.6010,1.85)(1.6023,1.95)(1.6050,1.98)(1.6072,2.02)(1.6100,2.05)(1.6121,2.07)(1.6140,2.12)(1.6153,2.16)(1.6172,2.28)(1.6185,2.1)(1.6202,1.81)(1.6218,1.75)(1.6234,1.62)(1.6250,1.58)(1.6267,1.52)(1.6283,1.12)(1.6300,1.05)(1.6315,1.02)(1.6332,1.3)};
\addlegendentry{50K}
\end{axis}
\pgfresetboundingbox
\path[use as bounding box] (0pt,0pt) rectangle (1213pt,423pt);
\end{tikzpicture}
\end{document}
